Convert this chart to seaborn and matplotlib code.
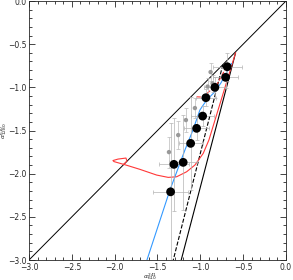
import numpy as np
import pandas as pd
import matplotlib
matplotlib.use("Agg")
import matplotlib.pyplot as plt
import seaborn as sns
from matplotlib.ticker import MultipleLocator

# black points with error bars
pt_x = [-0.686, -0.705, -0.830, -0.935, -0.973, -1.043, -1.113, -1.200, -1.308, -1.347]
pt_y = [-0.761, -0.884, -1.000, -1.120, -1.333, -1.475, -1.649, -1.869, -1.892, -2.210]
pt_xerr = [0.17, 0.15, 0.13, 0.12, 0.13, 0.15, 0.14, 0.16, 0.18, 0.20]
pt_yerr = [0.16, 0.12, 0.12, 0.10, 0.12, 0.14, 0.54, 0.55, 0.54, 0.80]

# grey points
grey_x = [-0.880, -0.857, -0.915, -1.063, -1.168, -1.258, -1.366]
grey_y = [-0.823, -0.954, -0.991, -1.240, -1.379, -1.553, -1.750]
grey_yerr = [0.10, 0.10, 0.10, 0.12, 0.14, 0.16, 0.18]

# model curves
blue_x = [-0.635, -0.760, -0.830, -0.926, -1.005, -1.086, -1.180, -1.355, -1.623]
blue_y = [-0.722, -0.950, -1.051, -1.147, -1.263, -1.495, -1.727, -2.190, -3.000]

red_x = [-0.588, -0.900, -0.966, -1.063, -1.160, -1.277, -1.375, -1.510, -1.705,
         -1.868, -2.008, -2.020, -1.961, -1.868, -1.857, -1.892]
red_y = [-0.599, -1.611, -1.765, -1.900, -1.978, -2.036, -2.043, -2.016, -1.950,
         -1.900, -1.860, -1.848, -1.831, -1.819, -1.854, -1.889]

red_dash_x = [-0.693, -0.810, -0.970, -1.063]
red_dash_y = [-0.761, -0.973, -1.113, -1.109]

black_x = [-0.588, -1.223]
black_y = [-0.599, -3.000]

black_dash_x = [-0.737, -1.316]
black_dash_y = [-0.737, -3.000]

diag = [-3.0, 0.0]

sns.set_style("ticks")
plt.rcParams["font.family"] = ["DejaVu Sans"]

fig = plt.figure(figsize=(2.93, 2.80), dpi=100)
ax = fig.add_axes([0.099, 0.0714, 0.877, 0.925])


def curve(x, y, **kw):
    df = pd.DataFrame({"x": x, "y": y})
    sns.lineplot(data=df, x="x", y="y", sort=False, estimator=None, ax=ax, **kw)


curve(diag, diag, color="black", linewidth=0.7)
curve(black_x, black_y, color="black", linewidth=0.8)
curve(black_dash_x, black_dash_y, color="black", linewidth=0.8, linestyle="--", dashes=(3, 2))
curve(red_x, red_y, color="#ff3838", linewidth=0.8)
curve(red_dash_x, red_dash_y, color="#ff3838", linewidth=0.8, linestyle="--", dashes=(3, 2))
curve(blue_x, blue_y, color="#3399ff", linewidth=0.8)

ax.errorbar(grey_x, grey_y, yerr=grey_yerr, fmt="none", ecolor="#bbbbbb",
            elinewidth=0.5, capsize=1.5, capthick=0.5)
ax.errorbar(pt_x, pt_y, xerr=pt_xerr, yerr=pt_yerr, fmt="none", ecolor="#b4b4b4",
            elinewidth=0.5, capsize=1.5, capthick=0.5)
sns.scatterplot(x=grey_x, y=grey_y, color="#999999", s=10, edgecolor="none", ax=ax, zorder=3)
sns.scatterplot(x=pt_x, y=pt_y, color="black", s=40, edgecolor="none", ax=ax, zorder=4)

ax.set_xlim(-3, 0)
ax.set_ylim(-3, 0)
ax.xaxis.set_major_locator(MultipleLocator(0.5))
ax.yaxis.set_major_locator(MultipleLocator(0.5))
ax.xaxis.set_minor_locator(MultipleLocator(0.1))
ax.yaxis.set_minor_locator(MultipleLocator(0.1))
ax.tick_params(which="both", direction="in", top=True, right=True,
               labelsize=5.5, width=0.6)
ax.tick_params(axis="x", pad=2.5)
ax.tick_params(axis="y", pad=1.5)
ax.tick_params(which="major", length=4.5)
ax.tick_params(which="minor", length=2.2)
for s in ax.spines.values():
    s.set_linewidth(0.6)

ax.set_xlabel(r"$\alpha^{241}_{610}$", fontsize=4.5)
ax.xaxis.set_label_coords(0.47, -0.044)
ax.set_ylabel(r"$\alpha^{610}_{1280}$", fontsize=4.5)
ax.yaxis.set_label_coords(-0.079, 0.5)

fig.savefig("out.png", dpi=100)
